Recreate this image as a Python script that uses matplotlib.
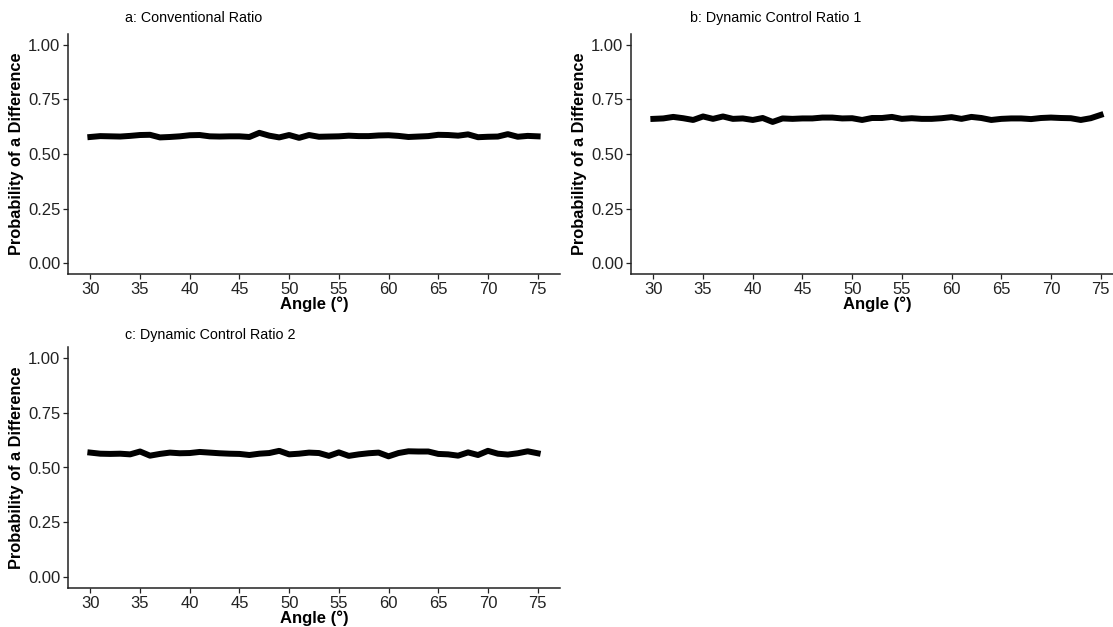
import matplotlib
matplotlib.use('Agg')
import matplotlib.pyplot as plt
import numpy as np

plt.rcParams['font.family'] = ['Liberation Sans', 'DejaVu Sans']

angulos = list(range(30, 76))

# a: Conventional Ratio
ratio_conv = [0.578, 0.582, 0.581, 0.580, 0.583, 0.587, 0.588, 0.576, 0.578, 0.581,
              0.586, 0.587, 0.581, 0.580, 0.581, 0.581, 0.578, 0.597, 0.584, 0.576,
              0.587, 0.574, 0.587, 0.579, 0.580, 0.581, 0.584, 0.582, 0.582, 0.585,
              0.586, 0.583, 0.578, 0.580, 0.582, 0.588, 0.587, 0.584, 0.590, 0.577,
              0.579, 0.580, 0.591, 0.579, 0.583, 0.581]

# b: Dynamic Control Ratio 1
ratio_dyn1 = [0.661, 0.663, 0.670, 0.664, 0.656, 0.672, 0.661, 0.672, 0.661, 0.663,
              0.656, 0.665, 0.647, 0.663, 0.661, 0.663, 0.663, 0.667, 0.667, 0.663,
              0.664, 0.656, 0.665, 0.665, 0.670, 0.661, 0.664, 0.661, 0.661, 0.664,
              0.669, 0.661, 0.670, 0.665, 0.656, 0.661, 0.663, 0.663, 0.660, 0.665,
              0.667, 0.665, 0.664, 0.656, 0.664, 0.679]

# c: Dynamic Control Ratio 2
ratio_dyn2 = [0.568, 0.563, 0.562, 0.563, 0.560, 0.573, 0.554, 0.562, 0.568, 0.565,
              0.566, 0.571, 0.568, 0.565, 0.563, 0.562, 0.557, 0.563, 0.566, 0.576,
              0.560, 0.563, 0.568, 0.566, 0.553, 0.569, 0.553, 0.560, 0.565, 0.568,
              0.551, 0.566, 0.574, 0.573, 0.573, 0.562, 0.560, 0.554, 0.569, 0.557,
              0.576, 0.563, 0.559, 0.565, 0.574, 0.565]

titulos = ['a: Conventional Ratio', 'b: Dynamic Control Ratio 1', 'c: Dynamic Control Ratio 2']
series = [ratio_conv, ratio_dyn1, ratio_dyn2]

W, H = 1113, 627
fig = plt.figure(figsize=(W / 100, H / 100), dpi=100)

# axes boxes in pixels: left, top, right, bottom
cajas = [(68, 34, 560, 274), (631, 34, 1123, 274), (68, 347, 560, 588)]
pos_titulos = [(125, 18), (690, 18), (125, 335)]

for caja, titulo, valores, pt in zip(cajas, titulos, series, pos_titulos):
    l, t, r, b = caja
    ax = fig.add_axes([l / W, 1 - b / H, (r - l) / W, (b - t) / H])
    ax.plot(angulos, valores, color='black', linewidth=4.3, solid_joinstyle='round')
    ax.set_xlim(27.75, 77.25)
    ax.set_ylim(-0.05, 1.05)
    ax.set_xticks(range(30, 80, 5))
    ax.set_yticks([0, 0.25, 0.5, 0.75, 1.0])
    ax.set_yticklabels(['0.00', '0.25', '0.50', '0.75', '1.00'])
    for s in ['top', 'right']:
        ax.spines[s].set_visible(False)
    for s in ['left', 'bottom']:
        ax.spines[s].set_linewidth(1.1)
        ax.spines[s].set_color('#222222')
    ax.tick_params(direction='out', length=3.5, width=0.9, colors='#222222',
                   labelsize=12, pad=2)
    ax.set_xlabel('Angle (°)', fontsize=12, fontweight='bold', labelpad=0)
    ax.set_ylabel('Probability of a Difference', fontsize=11.8, fontweight='bold', labelpad=3)
    fig.text(pt[0] / W, 1 - pt[1] / H, titulo, fontsize=10.3, ha='left', va='center')

fig.savefig('out.png', dpi=100)
